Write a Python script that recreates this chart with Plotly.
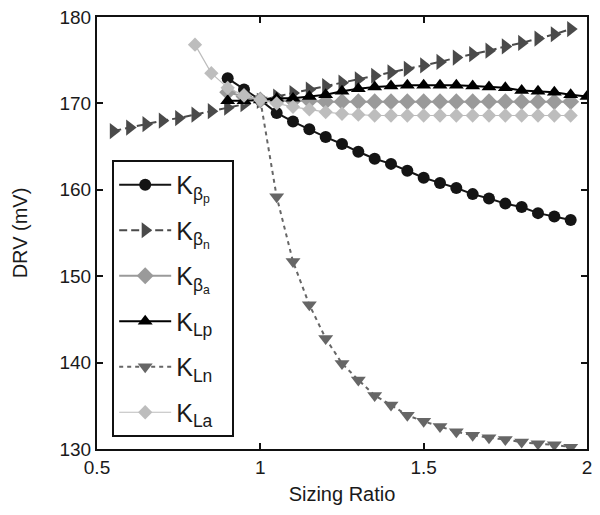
import plotly.graph_objects as go

# ---- data ----
x_bp = [0.90, 0.95, 1.00, 1.05, 1.10, 1.15, 1.20, 1.25, 1.30, 1.35, 1.40, 1.45,
        1.50, 1.55, 1.60, 1.65, 1.70, 1.75, 1.80, 1.85, 1.90, 1.95]
y_bp = [172.9, 171.6, 170.4, 168.9, 167.9, 167.0, 166.1, 165.3, 164.4, 163.6, 163.0, 162.2,
        161.4, 160.8, 160.2, 159.5, 159.0, 158.4, 158.0, 157.3, 156.9, 156.5]

x_bn = [0.55, 0.60, 0.65, 0.70, 0.75, 0.80, 0.85, 0.90, 0.95, 1.00, 1.05, 1.10, 1.15, 1.20,
        1.25, 1.30, 1.35, 1.40, 1.45, 1.50, 1.55, 1.60, 1.65, 1.70, 1.75, 1.80, 1.85, 1.90, 1.95]
y_bn = [166.8, 167.2, 167.6, 168.0, 168.3, 168.7, 169.1, 169.5, 169.9, 170.3, 170.8, 171.2,
        171.6, 172.0, 172.4, 172.8, 173.2, 173.6, 174.0, 174.4, 174.8, 175.3, 175.7, 176.1,
        176.6, 177.0, 177.5, 178.0, 178.6]

x_ba = [0.90, 0.95, 1.00, 1.05, 1.10, 1.15, 1.20, 1.25, 1.30, 1.35, 1.40, 1.45,
        1.50, 1.55, 1.60, 1.65, 1.70, 1.75, 1.80, 1.85, 1.90, 1.95]
y_ba = [171.3, 170.8, 170.4, 170.3, 170.3, 170.3, 170.2, 170.2, 170.2, 170.2, 170.2, 170.2,
        170.2, 170.2, 170.2, 170.2, 170.2, 170.2, 170.2, 170.2, 170.2, 170.2]

x_lp = [0.90, 0.95, 1.00, 1.05, 1.10, 1.15, 1.20, 1.25, 1.30, 1.35, 1.40, 1.45,
        1.50, 1.55, 1.60, 1.65, 1.70, 1.75, 1.80, 1.85, 1.90, 1.95, 2.00]
y_lp = [170.3, 170.3, 170.4, 170.6, 170.6, 170.8, 171.0, 171.4, 171.7, 171.9, 172.0, 172.1,
        172.1, 172.1, 172.1, 172.0, 171.9, 171.8, 171.5, 171.4, 171.3, 171.0, 170.8]

x_ln = [1.00, 1.05, 1.10, 1.15, 1.20, 1.25, 1.30, 1.35, 1.40, 1.45,
        1.50, 1.55, 1.60, 1.65, 1.70, 1.75, 1.80, 1.85, 1.90, 1.95]
y_ln = [170.4, 159.2, 151.7, 146.7, 142.8, 139.9, 138.0, 136.2, 135.1, 133.9,
        133.2, 132.6, 132.0, 131.6, 131.3, 131.1, 130.8, 130.6, 130.5, 130.2]

x_la = [0.80, 0.85, 0.90, 0.95, 1.00, 1.05, 1.10, 1.15, 1.20, 1.25, 1.30, 1.35, 1.40, 1.45,
        1.50, 1.55, 1.60, 1.65, 1.70, 1.75, 1.80, 1.85, 1.90, 1.95]
y_la = [176.8, 173.5, 171.8, 170.9, 170.4, 170.0, 169.6, 169.3, 169.0, 168.8, 168.7, 168.6,
        168.6, 168.6, 168.6, 168.6, 168.6, 168.6, 168.6, 168.6, 168.6, 168.6, 168.6, 168.6]

names = ["K<sub>β<sub>p</sub></sub>", "K<sub>β<sub>n</sub></sub>", "K<sub>β<sub>a</sub></sub>",
         "K<sub>Lp</sub>", "K<sub>Ln</sub>", "K<sub>La</sub>"]

FONT = "Arial, Liberation Sans, sans-serif"
PAD = "\u00a0\u00a0"

fig = go.Figure()
specs = [
    (x_bp, y_bp, "#141414", "circle", 12, "solid", 2),
    (x_bn, y_bn, "#4a4a4a", "triangle-right", 14, "8px,4px", 2),
    (x_ba, y_ba, "#9a9a9a", "diamond", 13, "solid", 2),
    (x_lp, y_lp, "#000000", "triangle-up", 13, "solid", 2),
    (x_ln, y_ln, "#666666", "triangle-down", 13, "4px,4px", 2),
    (x_la, y_la, "#bdbdbd", "diamond", 11, "solid", 1.2),
]
for i, (xs, ys, col, sym, sz, dash, lw) in enumerate(specs):
    fig.add_trace(go.Scatter(
        x=xs, y=ys, mode="lines+markers", name=names[i] + PAD, legendgroup=str(i),
        line=dict(color=col, width=lw, dash=dash),
        marker=dict(color=col, symbol=sym, size=sz, line=dict(width=0)),
    ))

axis_common = dict(
    showline=True, linecolor="#111", linewidth=2, mirror="allticks",
    ticks="inside", ticklen=6, tickwidth=1.5, tickcolor="#111",
    showgrid=False, zeroline=False,
    tickfont=dict(family=FONT, size=19, color="#1a1a1a"),
)
fig.update_xaxes(range=[0.5, 2], dtick=0.5, tick0=0.5, automargin=False,
                 title=dict(text="Sizing Ratio", font=dict(family=FONT, size=20, color="#1a1a1a"), standoff=10),
                 **axis_common)
fig.update_yaxes(range=[130, 180], dtick=10, automargin="left",
                 title=dict(text="DRV (mV)", font=dict(family=FONT, size=20, color="#1a1a1a"), standoff=26),
                 **axis_common)

fig.update_layout(
    width=600, height=515,
    margin=dict(l=97, r=13, t=17, b=66),
    paper_bgcolor="white", plot_bgcolor="white",
    font=dict(family=FONT, color="#1a1a1a"),
    legend=dict(
        x=0.031, y=0.669, xanchor="left", yanchor="top",
        bgcolor="white", bordercolor="#111", borderwidth=2,
        font=dict(family=FONT, size=25, color="#1a1a1a"),
        itemwidth=52, tracegroupgap=10,
    ),
)

fig.write_html("out.html")
